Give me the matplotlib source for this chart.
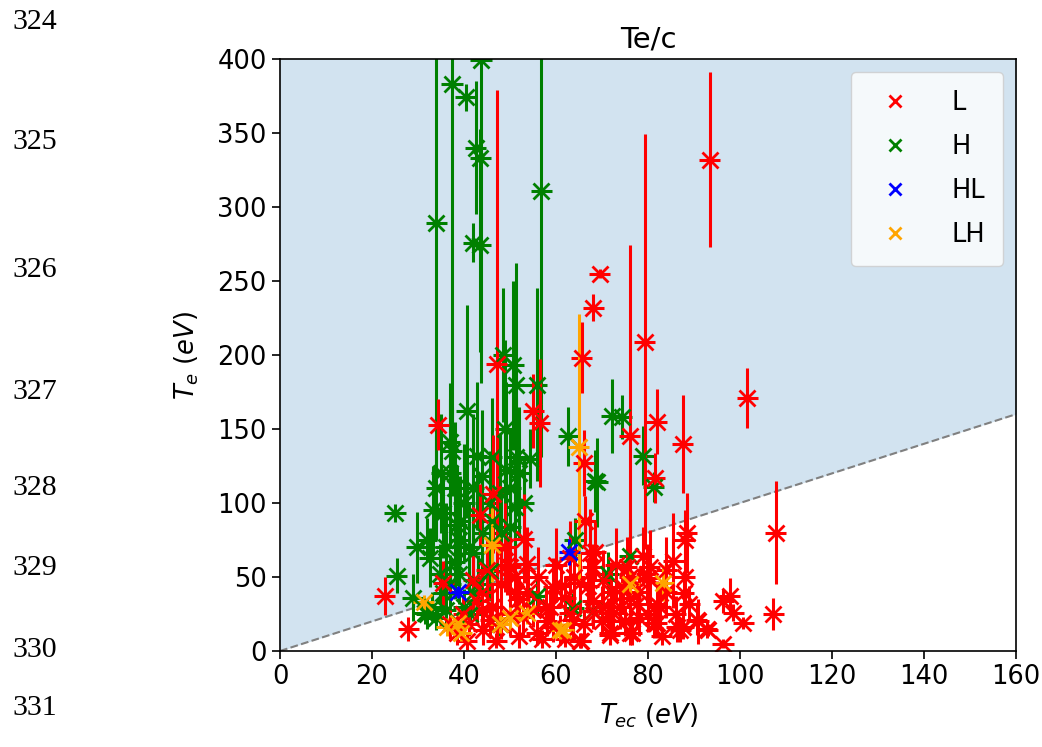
import matplotlib
import matplotlib.pyplot as plt
import numpy as np
from matplotlib.lines import Line2D

matplotlib.use('agg')

# ---- data: (Tec, Te, Te error) per regime ----
L_tec = [93.4, 79.3, 76.0, 69.5, 68.1, 65.6, 81.9, 87.5, 101.6, 107.8, 107.2, 97.8, 96.4, 98.5,
         100.7, 96.3, 93.0, 90.9, 88.4, 88.0, 87.8, 85.5, 81.5, 66.0, 66.3, 68.5, 68.0, 79.0,
         80.4, 74.3, 71.4, 71.7, 76.5, 65.4, 81.9, 86.2, 87.0, 63.8, 68.0, 77.6, 82.6, 76.1,
         80.0, 22.8, 27.9, 34.4, 35.5, 36.9, 38.4, 40.6, 39.8, 42.8, 44.2, 45.7, 47.0, 43.5,
         46.2, 47.1, 50.0, 51.4, 53.6, 52.9, 55.1, 56.5, 55.8, 57.9, 60.9, 59.4, 67.4, 65.2,
         70.3, 71.7, 74.6, 79.7, 81.9, 76.0, 81.2, 49.3, 65.2, 61.0, 58.7, 72.4, 76.1, 75.4,
         87.6, 90.6, 92.8, 63.0, 68.0, 59.4, 42.0, 44.0, 46.0, 48.0, 50.0, 52.0, 54.0, 56.0,
         58.0, 60.0, 62.0, 64.0, 66.0, 70.0, 72.0, 73.0, 78.0, 84.0, 86.0, 89.0, 83.0, 52.0,
         55.0, 48.0, 44.0, 41.0, 62.0, 70.0, 74.0, 57.0, 45.0, 49.0, 53.0, 51.0, 63.0, 67.0,
         84.0, 88.0, 78.0, 80.0, 75.0]
L_te = [332, 209, 145, 255, 232, 198, 155, 140, 171, 80, 25, 37, 34, 26,
        19, 5, 14, 20, 80, 75, 39, 61, 117, 127, 88, 67, 57, 64,
        57, 43, 26, 11, 12, 7, 19, 16, 14, 21, 27, 32, 30, 50,
        49, 37, 15, 153, 46, 18, 12, 7, 25, 34, 14, 21, 7, 92,
        106, 194, 57, 39, 59, 23, 162, 154, 12, 30, 14, 43, 66, 7,
        48, 12, 43, 52, 32, 12, 19, 58, 46, 44, 30, 26, 36, 57,
        16, 21, 15, 26, 34, 16, 48, 40, 30, 45, 25, 10, 40, 50,
        20, 58, 36, 50, 18, 30, 40, 58, 22, 40, 25, 32, 10, 35,
        28, 18, 28, 18, 8, 20, 30, 8, 55, 70, 76, 50, 63, 44,
        55, 50, 40, 25, 20]
L_err = [59, 140, 129, 3, 9, 24, 22, 33, 20, 35, 11, 12, 8, 6,
         4, 3, 4, 15, 27, 20, 15, 32, 17, 22, 17, 20, 15, 20,
         25, 15, 10, 6, 8, 5, 10, 10, 8, 12, 12, 15, 15, 20,
         20, 13, 8, 17, 15, 10, 8, 6, 12, 15, 10, 12, 5, 21,
         40, 185, 20, 15, 25, 12, 25, 43, 8, 15, 10, 20, 30, 5,
         20, 8, 18, 20, 15, 8, 10, 20, 20, 15, 12, 12, 15, 20,
         8, 10, 6, 12, 15, 10, 20, 15, 15, 25, 15, 8, 18, 20,
         10, 25, 15, 20, 10, 14, 20, 25, 12, 18, 12, 12, 6, 14,
         12, 10, 12, 8, 5, 10, 15, 6, 22, 30, 30, 20, 25, 18,
         22, 20, 16, 12, 10]

H_tec = [34.0, 37.4, 40.4, 43.7, 42.5, 43.5, 42.0, 43.5, 56.8, 25.0, 25.4, 28.9, 29.7, 31.9,
         31.5, 33.3, 35.1, 36.9, 37.3, 38.4, 40.6, 42.8, 46.0, 48.5, 50.7, 51.4, 55.8, 51.4,
         54.3, 49.2, 47.8, 51.1, 50.0, 45.6, 39.1, 35.5, 32.6, 34.8, 42.0, 45.6, 35.5, 31.9,
         55.8, 62.7, 72.1, 74.3, 79.0, 81.2, 68.5, 69.0, 71.4, 63.8, 64.1, 76.0, 47.8, 42.0,
         41.3, 68.0, 33.0, 34.0, 36.0, 37.0, 38.0, 39.0, 40.0, 41.0, 43.0, 44.0, 36.0, 38.0,
         40.0, 42.0, 44.0, 46.0, 48.0, 49.0, 50.0, 52.0, 53.0, 34.0, 37.0, 39.0]
H_te = [289, 383, 374, 399, 340, 333, 276, 274, 311, 93, 51, 36, 70, 75,
        26, 95, 120, 141, 135, 85, 162, 132, 131, 200, 193, 180, 180, 131,
        130, 122, 107, 97, 84, 100, 88, 93, 63, 52, 66, 54, 39, 25,
        37, 145, 159, 158, 132, 111, 115, 114, 52, 29, 75, 64, 18, 39,
        25, 27, 30, 22, 28, 45, 60, 52, 30, 70, 45, 80, 70, 110,
        100, 110, 118, 88, 80, 150, 110, 120, 100, 110, 120, 75]
H_err = [165, 263, 9, 218, 45, 20, 13, 72, 180, 6, 12, 16, 24, 15,
         8, 30, 40, 40, 30, 40, 72, 50, 40, 45, 57, 82, 65, 40,
         20, 60, 40, 35, 30, 35, 30, 30, 20, 20, 25, 20, 15, 10,
         12, 20, 25, 15, 20, 10, 21, 30, 15, 10, 15, 25, 8, 15,
         10, 10, 10, 8, 12, 20, 25, 20, 12, 30, 20, 35, 30, 45,
         40, 50, 45, 40, 30, 60, 40, 45, 30, 35, 50, 30]

HL_tec = [38.8, 62.9]
HL_te = [40, 67]
HL_err = [4, 9]

LH_tec = [31.2, 36.2, 38.7, 39.4, 46.0, 47.8, 53.6, 60.9, 64.9, 76.0, 83.3, 61.6, 50.0]
LH_te = [33, 16, 19, 12, 71.5, 18, 26, 14, 138, 45, 46, 14, 22]
LH_err = [5, 6, 8, 5, 25, 6, 8, 6, 90, 10, 12, 5, 8]

tec_err = 2.3  # horizontal bar half width (eV)

groups = [('H', 'green', H_tec, H_te, H_err),
          ('L', 'red', L_tec, L_te, L_err),
          ('LH', 'orange', LH_tec, LH_te, LH_err),
          ('HL', 'blue', HL_tec, HL_te, HL_err)]
legend_order = [('L', 'red'), ('H', 'green'), ('HL', 'blue'), ('LH', 'orange')]

line_numbers = ['324', '325', '326', '327', '328', '329', '330', '331']
line_number_y = [22, 142, 270, 392, 488, 568, 650, 708]

fig = plt.figure(figsize=(10.42, 7.47), dpi=100)
ax = fig.add_axes([280 / 1042, 96 / 747, 736 / 1042, 592 / 747])

# shaded region above Te = Tec
xx = np.array([0, 160])
ax.fill_between(xx, xx, 400, color='tab:blue', alpha=0.2, lw=0)
ax.plot(xx, xx, ls='--', color='gray', lw=1.5)

for name, col, tx, ty, terr in groups:
    ax.errorbar(tx, ty, yerr=terr, xerr=tec_err, fmt='x', color=col,
                ms=11, mew=2, elinewidth=2.2, capsize=0)

ax.set_xlim(0, 160)
ax.set_ylim(0, 400)
ax.set_xticks(np.arange(0, 161, 20))
ax.set_yticks(np.arange(0, 401, 50))
ax.tick_params(labelsize=18.5, length=6, width=1.2)
for s in ax.spines.values():
    s.set_linewidth(1.2)

ax.set_title('Te/c', fontsize=21, pad=8)
ax.set_xlabel('$T_{ec}$ $(eV)$', fontsize=18.5, labelpad=8)
ax.set_ylabel('$T_e$ $(eV)$', fontsize=18.5, labelpad=12)

handles = [Line2D([], [], ls='none', marker='x', color=c, ms=9, mew=2) for _, c in legend_order]
ax.legend(handles, [n for n, _ in legend_order], loc='upper right', fontsize=18.5,
          borderpad=0.7, labelspacing=0.7, handletextpad=1.2)

for t, y in zip(line_numbers, line_number_y):
    fig.text(12 / 1042, 1 - y / 747, t, family='Liberation Serif', fontsize=21.5,
             va='center', ha='left')

fig.savefig('out.png', dpi=100)
plt.close()
